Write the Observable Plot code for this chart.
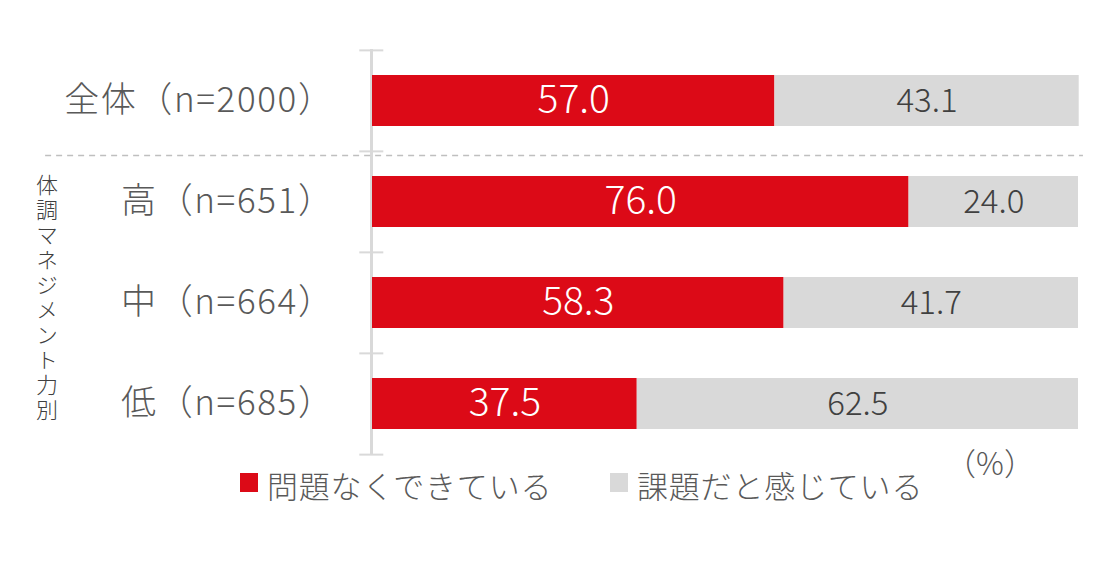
<!DOCTYPE html>
<html>
<head>
<meta charset="utf-8">
<script src="https://cdn.jsdelivr.net/npm/d3@7"></script>
<script src="https://cdn.jsdelivr.net/npm/@observablehq/plot@0.6"></script>
<style>
  html, body { margin: 0; padding: 0; background: #fff; }
  #chart svg { display: block; }
</style>
</head>
<body>
<div id="chart"></div>
<script>
const categories = ["全体（n=2000）", "高（n=651）", "中（n=664）", "低（n=685）"];
const okValues = [57.0, 76.0, 58.3, 37.5];
const issueValues = [43.1, 24.0, 41.7, 62.5];
const seriesNames = ["問題なくできている", "課題だと感じている"];
const seriesColors = ["#dc0a17", "#d9d9d9"];
const groupLabel = "体調マネジメント力別";
const unitLabel = "（%）";

const data = categories.flatMap((c, i) => [
  {cat: c, series: seriesNames[0], value: okValues[i]},
  {cat: c, series: seriesNames[1], value: issueValues[i]}
]);

const W = 1106, H = 571, mT = 49, mB = 117, mL = 372, mR = 28;
const step = (H - mT - mB) / categories.length;
const font = "'Noto Sans CJK JP', 'Noto Sans', sans-serif";

const plot = Plot.plot({
  width: W, height: H,
  marginTop: mT, marginBottom: mB, marginLeft: mL, marginRight: mR,
  style: {fontFamily: font, background: "white", color: "#595959"},
  x: {domain: [0, 100], axis: null},
  y: {domain: categories, paddingInner: 0.5, paddingOuter: 0.25, axis: null},
  color: {domain: seriesNames, range: seriesColors},
  marks: [
    Plot.axisY({tickSize: 0, tickPadding: 38, fontSize: 35, label: null, fill: "#595959", fontWeight: 300, className: "ylab"}),
    Plot.ruleX([0], {stroke: "#d9d9d9", strokeWidth: 3, dx: -1}),
    Plot.ruleY(categories, {y: d => d, dy: -step / 2, x1: -1.8, x2: 1.6, stroke: "#d9d9d9", strokeWidth: 2}),
    Plot.ruleY(categories.slice(-1), {y: d => d, dy: step / 2, x1: -1.8, x2: 1.6, stroke: "#d9d9d9", strokeWidth: 2}),
    Plot.ruleY(categories.slice(1, 2), {y: d => d, dy: -step / 2 + 4, x1: -46.3, x2: 100.7, stroke: "#bfbfbf", strokeWidth: 1.5, strokeDasharray: "6,5"}),
    Plot.barX(data, {x: "value", y: "cat", fill: "series"}),
    Plot.text(data, Plot.stackX({
      x: "value", y: "cat",
      text: d => d.series === seriesNames[0] ? d.value.toFixed(1) : "",
      fill: "white", fontSize: 39, fontWeight: 300
    })),
    Plot.text(data, Plot.stackX({
      x: "value", y: "cat",
      text: d => d.series === seriesNames[1] ? d.value.toFixed(1) : "",
      fill: "#404040", fontSize: 33, fontWeight: 300
    }))
  ]
});

document.getElementById("chart").appendChild(plot);
const svg = d3.select(plot);
svg.selectAll("g.ylab text").style("letter-spacing", "1.6px");

// vertical group label
svg.append("text")
  .attr("x", 47).attr("y", 174)
  .attr("text-anchor", "start")
  .style("writing-mode", "vertical-rl")
  .style("text-orientation", "upright")
  .style("letter-spacing", "3px")
  .attr("font-size", 22)
  .attr("font-weight", 300)
  .attr("fill", "#404040")
  .attr("font-family", font)
  .text(groupLabel);

// legend
const legendX = [240, 610];
seriesNames.forEach((s, i) => {
  svg.append("rect").attr("x", legendX[i]).attr("y", 473).attr("width", 18).attr("height", 19).attr("fill", seriesColors[i]);
  svg.append("text").attr("x", legendX[i] + 27).attr("y", 484)
    .attr("text-anchor", "start")
    .attr("dominant-baseline", "central")
    .style("letter-spacing", "0.8px")
    .attr("font-size", 31).attr("font-weight", 300).attr("fill", "#595959").attr("font-family", font)
    .text(s);
});

// unit label
svg.append("text").attr("x", 990).attr("y", 461)
  .attr("text-anchor", "middle").attr("dominant-baseline", "central")
  .attr("font-size", 31).attr("font-weight", 300).attr("fill", "#595959").attr("font-family", font)
  .text(unitLabel);
</script>
</body>
</html>
